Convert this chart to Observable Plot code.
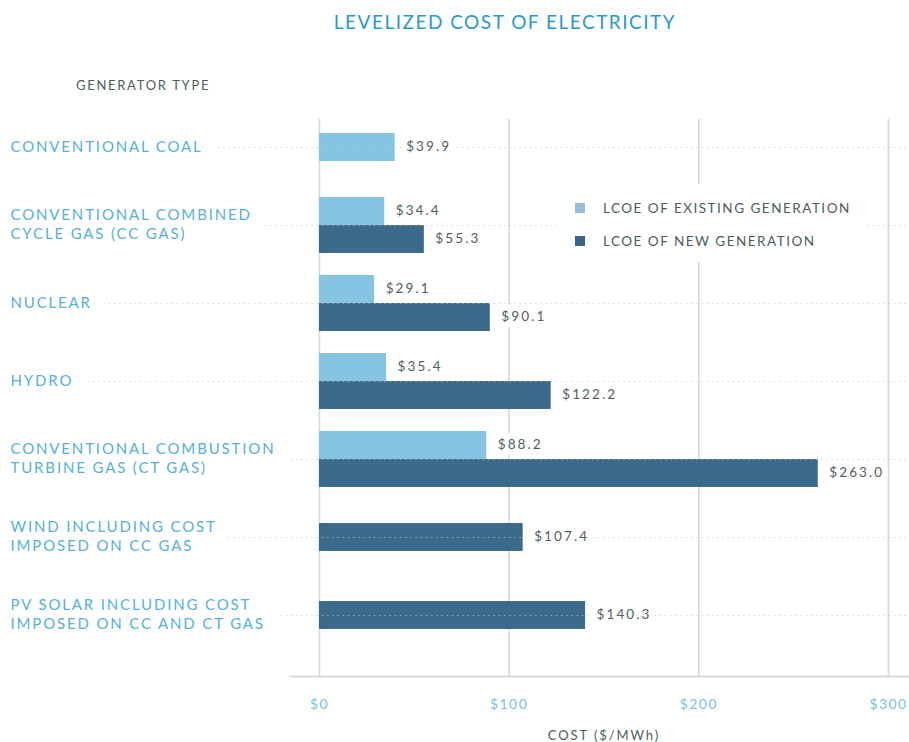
<!DOCTYPE html>
<html>
<head>
<meta charset="utf-8">
<script src="https://cdn.jsdelivr.net/npm/d3@7"></script>
<script src="https://cdn.jsdelivr.net/npm/@observablehq/plot@0.6"></script>
<style>
  html, body { margin: 0; padding: 0; background: #fff; }
  #wrap { position: relative; width: 909px; height: 742px; overflow: hidden; font-family: Lato, "Open Sans", sans-serif; }
  #title { height: 50px; box-sizing: border-box; padding-top: 12px; padding-left: 101px; text-align: center;
           font-size: 19px; line-height: 20px; letter-spacing: 1.5px; color: #2a98d0; }
  #ytitle { position: absolute; left: 76px; top: 77px; font-size: 13px; line-height: 16px; letter-spacing: 1.7px; color: #4b5d5c; }
  #legend { position: absolute; left: 557px; top: 184px; width: 308px; height: 78px; background: #fff; }
  .item { position: absolute; left: 18px; height: 16px; line-height: 16px; font-size: 13.5px; letter-spacing: 1.5px; color: #4b5d5c; }
  .sw { position: absolute; left: 0; top: 3px; width: 10px; height: 10px; }
  .item span.t { position: absolute; left: 28px; white-space: nowrap; }
  svg text { letter-spacing: 1.4px; }
  svg g[aria-description="category"] text, svg g[aria-description="category-halo"] text { letter-spacing: 1.85px; }
  svg g[aria-description="value"] text { letter-spacing: 2.1px; }
  svg g[aria-description="xlabel"] text { letter-spacing: 1.9px; }
</style>
</head>
<body>
<div id="wrap">
  <div id="title">LEVELIZED COST OF ELECTRICITY</div>
  <div id="ytitle">GENERATOR TYPE</div>
  <div id="chart"></div>
  <div id="legend"></div>
</div>
<script>
const categories = [
  "CONVENTIONAL COAL",
  "CONVENTIONAL COMBINED\nCYCLE GAS (CC GAS)",
  "NUCLEAR",
  "HYDRO",
  "CONVENTIONAL COMBUSTION\nTURBINE GAS (CT GAS)",
  "WIND INCLUDING COST\nIMPOSED ON CC GAS",
  "PV SOLAR INCLUDING COST\nIMPOSED ON CC AND CT GAS"
];
const existingValues = [39.9, 34.4, 29.1, 35.4, 88.2, null, null];
const newValues = [null, 55.3, 90.1, 122.2, 263.0, 107.4, 140.3];
const xTicks = [0, 100, 200, 300];
const seriesNames = ["LCOE OF EXISTING GENERATION", "LCOE OF NEW GENERATION"];
const seriesColors = ["#86c5e2", "#3c6a8b"];
const legendColors = ["#93bee0", "#3c6688"];

const rows = categories.map((cat, i) => ({
  cat, existing: existingValues[i], newGen: newValues[i],
  paired: existingValues[i] != null && newValues[i] != null
}));

const fmt = v => "$" + v.toFixed(1);

function bars(key, fill, paired, dy) {
  const data = rows.filter(d => d[key] != null && d.paired === paired);
  return Plot.barX(data, {x: key, y: "cat", fill, dy});
}
function valueLabels(key, paired, dy) {
  const data = rows.filter(d => d[key] != null && d.paired === paired);
  return Plot.text(data, {
    x: key, y: "cat", dy: dy - 1, dx: 11, text: d => fmt(d[key]), textAnchor: "start",
    fill: "#4e5f5f", fontSize: 13.5, stroke: "white", strokeWidth: 12,
    strokeLinejoin: "round", paintOrder: "stroke", ariaDescription: "value"
  });
}

const chart = Plot.plot({
  width: 909,
  height: 692,
  marginLeft: 10,
  marginRight: 0,
  marginTop: 69,
  marginBottom: 66,
  style: {fontFamily: "Lato, 'Open Sans', sans-serif", background: "white", overflow: "visible"},
  x: {domain: [-162.9, 311.1], axis: null},
  y: {domain: categories, paddingInner: 0.644, paddingOuter: 0.362, align: 0.228, axis: null},
  marks: [
    Plot.ruleX(xTicks, {stroke: "#d7d7de", strokeWidth: 1.6}),
    Plot.frame({anchor: "bottom", insetLeft: 280, stroke: "#cfcfd5", strokeWidth: 1.6}),
    bars("existing", seriesColors[0], true, -14),
    bars("existing", seriesColors[0], false, 0),
    bars("newGen", seriesColors[1], true, 14),
    bars("newGen", seriesColors[1], false, 0),
    Plot.ruleY(categories, {stroke: "#c4c4c4", strokeOpacity: 0.8, strokeWidth: 1.2, strokeDasharray: "1.2,4"}),
    valueLabels("existing", true, -14),
    valueLabels("existing", false, 0),
    valueLabels("newGen", true, 14),
    valueLabels("newGen", false, 0),
    Plot.text(rows, {
      y: "cat", text: "cat", frameAnchor: "left", textAnchor: "start", dy: -2,
      fill: "white", fontSize: 15, lineHeight: 1.3,
      stroke: "white", strokeWidth: 32, strokeLinejoin: "round", ariaDescription: "category-halo"
    }),
    Plot.text(rows, {
      y: "cat", text: "cat", frameAnchor: "left", textAnchor: "start", dy: -2,
      fill: "#56b0dc", fontSize: 15, lineHeight: 1.3, ariaDescription: "category"
    }),
    Plot.axisX(xTicks, {tickSize: 0, tickPadding: 23, tickFormat: d => "$" + d, fill: "#79c0e2", fontSize: 14, label: null}),
    Plot.text(["COST ($/MWh)"], {x: [d3.mean(xTicks)], text: d => d, frameAnchor: "bottom", dy: 59,
      fill: "#4b5d5c", fontSize: 13, lineAnchor: "middle", ariaDescription: "xlabel"})
  ]
});
document.getElementById("chart").appendChild(chart);

const legend = document.getElementById("legend");
seriesNames.forEach((name, i) => {
  const item = document.createElement("div");
  item.className = "item";
  item.style.top = (16 + i * 33) + "px";
  item.innerHTML = `<span class="sw" style="background:${legendColors[i]}"></span><span class="t">${name}</span>`;
  legend.appendChild(item);
});
</script>
</body>
</html>
